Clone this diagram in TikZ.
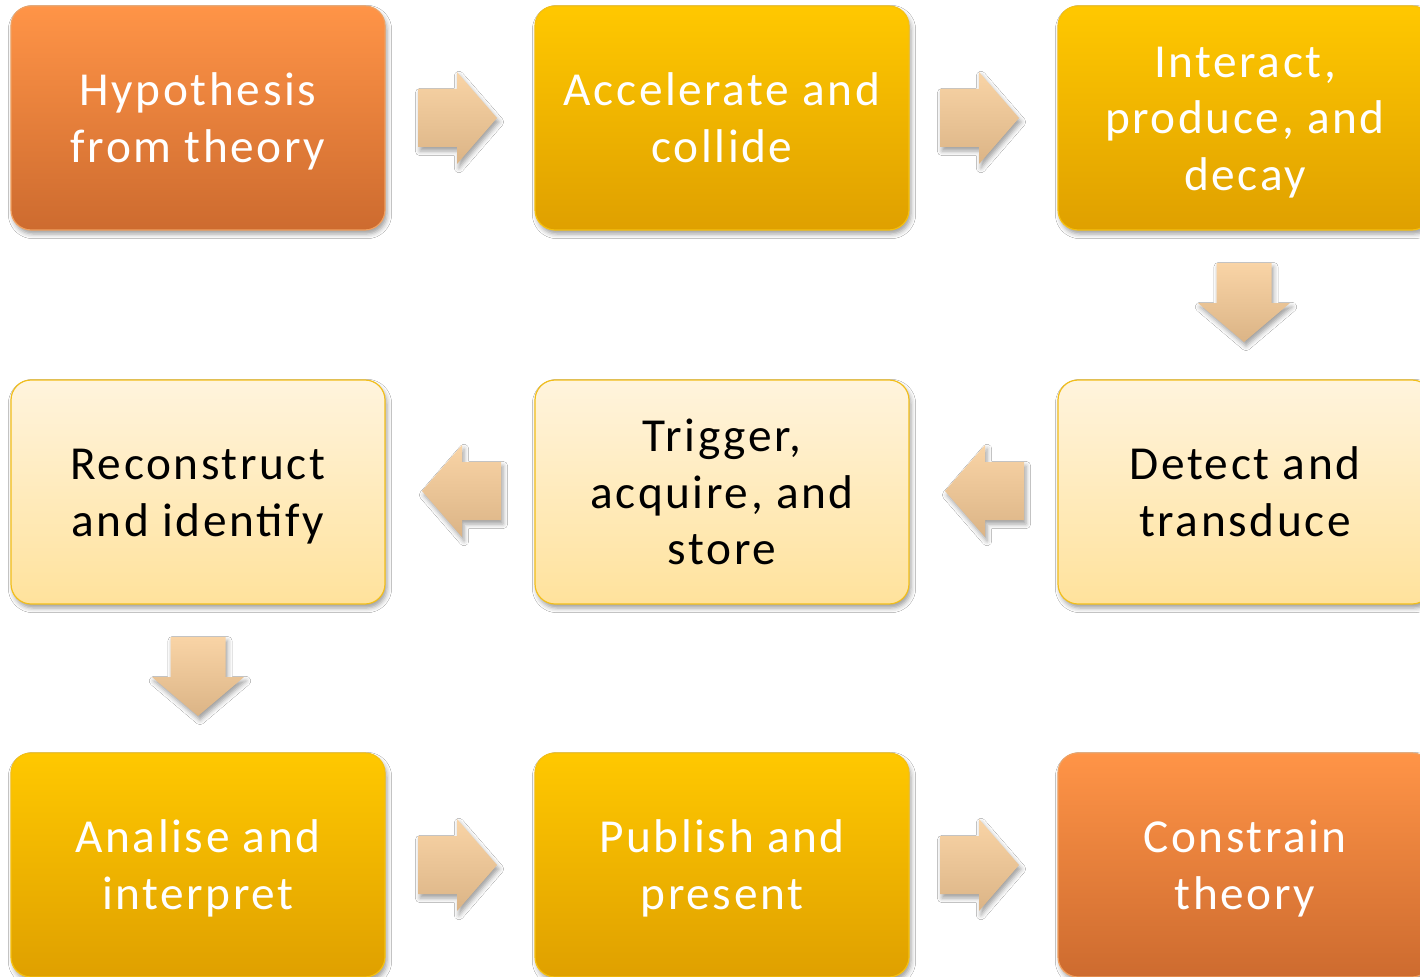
\documentclass[tikz,border=0pt]{standalone}
\usepackage{fontspec}
\setmainfont{Carlito}[LetterSpace=5.5]
\usetikzlibrary{shadows.blur}
\definecolor{orTop}{HTML}{FF9447}
\definecolor{orBot}{HTML}{CD6B2F}
\definecolor{orLine}{HTML}{F0A060}
\definecolor{gdTop}{HTML}{FFC800}
\definecolor{gdBot}{HTML}{DFA000}
\definecolor{gdLine}{HTML}{F5C010}
\definecolor{ltTop}{HTML}{FFF4DD}
\definecolor{ltBot}{HTML}{FFE29C}
\definecolor{ltLine}{HTML}{F2BE1A}
\definecolor{arTop}{HTML}{F9D4A6}
\definecolor{arBot}{HTML}{DBB486}
\newcommand{\bxtext}[1]{\raisebox{-3.5pt}[\height][\depth]{\begin{tabular}{@{}c@{}}#1\end{tabular}}}
\tikzset{
  myshadow/.style={blur shadow={shadow xshift=1.5pt, shadow yshift=-3pt, shadow blur radius=3.5pt, shadow opacity=38}},
  box/.style={rounded corners=15pt, minimum width=280.5pt, minimum height=168pt,
    inner sep=0pt, line width=0.9pt, myshadow,
    font=\fontsize{35.5}{42.5}\selectfont},
  orbox/.style={box, top color=orTop, bottom color=orBot, draw=orLine, text=white},
  gdbox/.style={box, top color=gdTop, bottom color=gdBot, draw=gdLine, text=white},
  ltbox/.style={box, top color=ltTop, bottom color=ltBot, draw=ltLine, text=black},
  blockarrow/.style={top color=arTop, bottom color=arBot, draw=none, myshadow},
}
\newcommand{\rarr}[2]{\path[blockarrow] (#1,#2-29) -- ++(39,0) -- ++(0,-17) -- (#1+79,#2) -- (#1+39,#2+46) -- ++(0,-17) -- (#1,#2+29) -- cycle;}
\newcommand{\larr}[2]{\path[blockarrow] (#1,#2-29) -- ++(-39,0) -- ++(0,-17) -- (#1-79,#2) -- (#1-39,#2+46) -- ++(0,-17) -- (#1,#2+29) -- cycle;}
\newcommand{\darr}[2]{\path[blockarrow] (#1-27.5,#2) -- ++(0,40) -- ++(-18.5,0) -- (#1,#2+79) -- (#1+46,#2+40) -- ++(-18.5,0) -- (#1+27.5,#2) -- cycle;}
\begin{document}
\begin{tikzpicture}[x=0.75pt,y=-0.75pt]
\useasboundingbox (0,0) rectangle (1420,977);
\fill[white] (0,0) rectangle (1420,977);
\node[orbox] (hyp) at (198,118) {\bxtext{Hypothesis\\from theory}};
\node[gdbox] (acc) at (722,118) {\bxtext{Accelerate and\\collide}};
\node[gdbox] (int) at (1245,118) {\bxtext{Interact,\\produce, and\\decay}};
\node[ltbox] (det) at (1245,492) {\bxtext{Detect and\\transduce}};
\node[ltbox] (trg) at (722,492) {\bxtext{Trigger,\\acquire, and\\store}};
\node[ltbox] (rec) at (198,492) {\bxtext{Reconstruct\\and identify}};
\node[gdbox] (ana) at (198,865) {\bxtext{Analise and\\interpret}};
\node[gdbox] (pub) at (722,865) {\bxtext{Publish and\\present}};
\node[orbox] (con) at (1245,865) {\bxtext{Constrain\\theory}};
\rarr{418}{118}
\rarr{940}{118}
\darr{1244}{263}
\larr{1024}{491}
\larr{501}{491}
\darr{198}{637}
\rarr{418}{865}
\rarr{940}{865}
\end{tikzpicture}
\end{document}
